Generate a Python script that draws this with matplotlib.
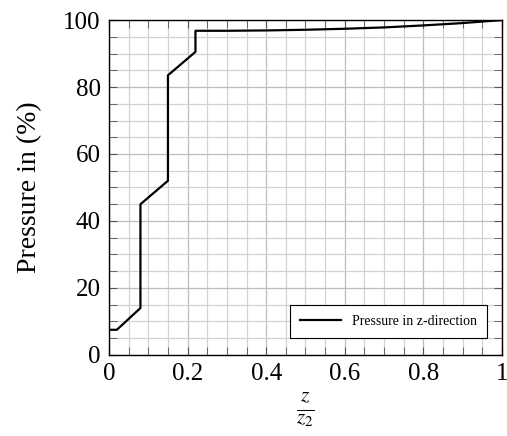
import matplotlib.pyplot as plt
from matplotlib.ticker import MultipleLocator, FuncFormatter

# valeurs
z_rel = [0.0, 0.02, 0.08, 0.08, 0.15, 0.15, 0.22, 0.22, 0.30, 0.40, 0.50,
         0.60, 0.70, 0.80, 0.90, 1.0]
pression = [7.5, 7.5, 14.0, 45.0, 52.0, 83.5, 90.5, 96.8, 96.8, 96.9, 97.1,
            97.4, 97.8, 98.4, 99.1, 100.0]
label_serie = "Pressure in z-direction"

plt.rcParams['font.family'] = ['Liberation Serif', 'DejaVu Serif']
plt.rcParams['mathtext.fontset'] = 'stix'

fig = plt.figure(figsize=(5.07, 4.36), dpi=100)
ax = fig.add_axes([0.215, 0.186, 0.775, 0.768])

ax.plot(z_rel, pression, color='black', linewidth=1.6, label=label_serie)

ax.set_xlim(0, 1)
ax.set_ylim(0, 100)
ax.xaxis.set_major_locator(MultipleLocator(0.2))
ax.xaxis.set_minor_locator(MultipleLocator(0.05))
ax.yaxis.set_major_locator(MultipleLocator(20))
ax.yaxis.set_minor_locator(MultipleLocator(5))


def fmt(v, pos):
    if abs(v - round(v)) < 1e-9:
        return f"{int(round(v))}"
    return f"{v:.1f}"


ax.xaxis.set_major_formatter(FuncFormatter(fmt))

ax.grid(True, which='major', color='#bdbdbd', linewidth=0.9)
ax.grid(True, which='minor', color='#d2d2d2', linewidth=0.9)
ax.set_axisbelow(True)

ax.tick_params(which='both', direction='in', top=True, right=True,
               color='#555555', labelsize=18, length=6)
ax.tick_params(axis='x', pad=6)
ax.tick_params(axis='y', pad=6)
for s in ax.spines.values():
    s.set_linewidth(1.0)

ax.set_xlabel(r"$\frac{z}{z_2}$", fontsize=22, labelpad=4)
ax.set_ylabel("Pressure in (%)", fontsize=20, labelpad=15)

leg = ax.legend(loc='lower right', fontsize=10, fancybox=False,
                edgecolor='black', framealpha=1, handlelength=3.0,
                borderpad=0.7, bbox_to_anchor=(0.98, 0.03))
leg.get_frame().set_linewidth(0.8)

fig.savefig("out.png", dpi=100)
